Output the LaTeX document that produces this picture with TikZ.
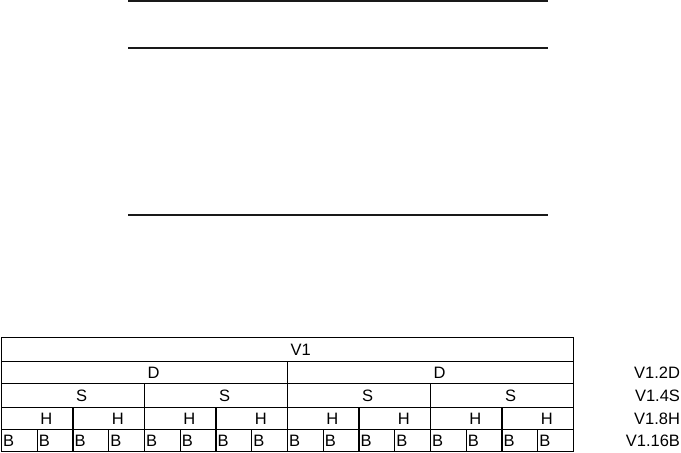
\documentclass[tikz,border=0pt]{standalone}
\usepackage{fontspec}
\setmainfont{Liberation Sans}
\usetikzlibrary{positioning}

\begin{document}
\begin{tikzpicture}[
        x=1pt, y=-1pt,
        every node/.style={
            font=\fontsize{16.5}{19}\selectfont,
            inner sep=0pt,
            outer sep=0pt
        },
        lijn/.style={
            line width=1.3pt,
            black!90
        },
        cel/.style={
            draw,
            line width=1.2pt,
            anchor=north west
        },
        celtekst/.style={
            anchor=west,
            xshift=3pt
        },
        rijlabel/.style={
            anchor=east
        }
    ]

    \useasboundingbox (0,0) rectangle (681,453);

    % three loose lines at the top
    \coordinate (lijnAl) at (128,1);
    \coordinate (lijnAr) at (548,1);
    \coordinate (lijnBl) at (128,48);
    \coordinate (lijnBr) at (548,48);
    \coordinate (lijnCl) at (128,215);
    \coordinate (lijnCr) at (548,215);

    \draw[lijn] (lijnAl) -- (lijnAr);
    \draw[lijn] (lijnBl) -- (lijnBr);
    \draw[lijn] (lijnCl) -- (lijnCr);

    % the table
    \node[cel, minimum width=572pt, minimum height=24pt] (v1) at (1.5,337.5) {};
    \node[celtekst] at (v1.center) {V1};

    \foreach \i in {0,1} {
        \node[cel, minimum width=286pt, minimum height=22pt] (d\i) at ({1.5+286*\i},361.5) {};
        \node[celtekst] at (d\i.center) {D};
    }

    \foreach \i in {0,...,3} {
        \node[cel, minimum width=143pt, minimum height=24pt] (s\i) at ({1.5+143*\i},383.5) {};
        \node[celtekst] at (s\i.center) {S};
    }

    \foreach \i in {0,...,7} {
        \node[cel, minimum width=71.5pt, minimum height=22pt] (h\i) at ({1.5+71.5*\i},407.5) {};
        \node[celtekst] at (h\i.center) {H};
    }

    \foreach \i in {0,...,15} {
        \node[cel, minimum width=35.75pt, minimum height=22pt] (b\i) at ({1.5+35.75*\i},429.5) {};
        \node[anchor=west, xshift=1.5pt] at (b\i.west) {B};
    }

    % row labels
    \node[rijlabel] (lbl2d) at (680,372.5) {V1.2D};
    \node[rijlabel] (lbl4s) at (680,395.5) {V1.4S};
    \node[rijlabel] (lbl8h) at (680,418.5) {V1.8H};
    \node[rijlabel] (lbl16b) at (680,440.5) {V1.16B};

\end{tikzpicture}
\end{document}
